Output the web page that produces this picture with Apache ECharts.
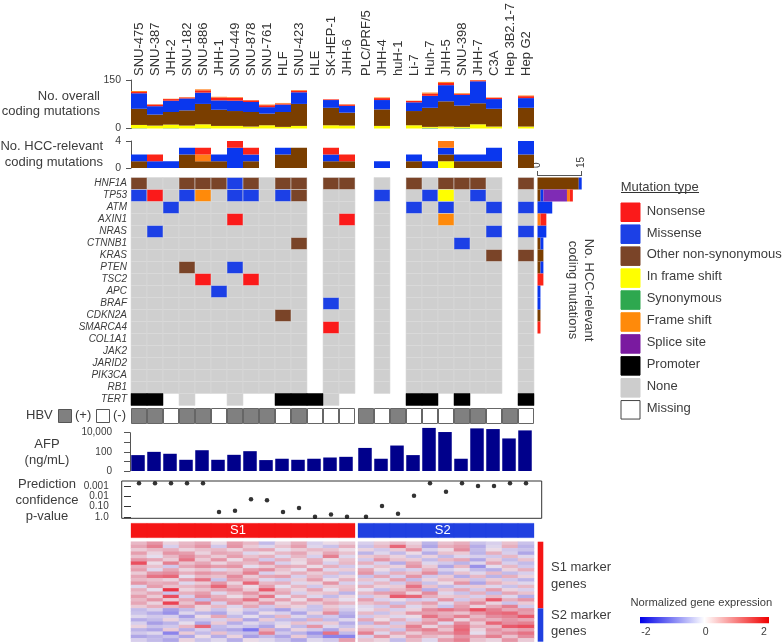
<!DOCTYPE html>
<html><head><meta charset="utf-8">
<style>html,body{margin:0;padding:0;background:#fff}#c{width:784px;height:644px;filter:blur(.45px)}</style>
<script src="https://cdn.jsdelivr.net/npm/echarts@6/dist/echarts.min.js"></script>
</head><body><div id="c"></div>
<script>
const cellLines = ['SNU-475','SNU-387','JHH-2','SNU-182','SNU-886','JHH-1','SNU-449','SNU-878','SNU-761','HLF','SNU-423','HLE','SK-HEP-1','JHH-6','PLC/PRF/5','JHH-4','huH-1','Li-7','Huh-7','JHH-5','SNU-398','JHH-7','C3A','Hep 3B2.1-7','Hep G2'];
const genes = ['HNF1A','TP53','ATM','AXIN1','NRAS','CTNNB1','KRAS','PTEN','TSC2','APC','BRAF','CDKN2A','SMARCA4','COL1A1','JAK2','JARID2','PIK3CA','RB1','TERT'];
// overall coding mutations, by column (null = not sequenced)
const ovSyn   = [1,0,1,0,1,0,0,0,0,0,0,null,0,0,null,0,null,0,2,0,2,0,0,null,0];
const ovInfr  = [10,9,11,9,12,8,8,6,10,5,8,null,10,9,null,8,null,10,3,6,3,13,6,null,6];
const ovOther = [50,34,39,47,63,50,46,45,36,46,68,null,54,40,null,51,null,44,59,78,66,65,55,null,58];
const ovMiss  = [48,26,35,37,35,29,32,31,20,23,36,null,24,21,null,29,null,27,37,50,33,68,30,null,30];
const ovNons  = [4,5,5,3,7,9,9,5,6,3,5,null,2,4,null,6,null,4,7,7,3,3,4,null,6];
const ovFram  = [3,1,1,1,3,2,2,1,2,2,2,null,0,1,null,2,null,1,3,3,2,1,1,null,2];
// HCC-relevant coding mutations, by column
const hcInfr  = [0,0,0,0,0,0,0,0,0,0,0,null,0,0,null,0,null,0,0,1,0,0,0,null,0];
const hcOther = [1,0,0,2,1,1,0,1,0,2,3,null,1,1,null,0,null,1,0,1,1,1,1,null,2];
const hcMiss  = [1,1,1,1,0,1,3,1,0,1,0,null,1,0,null,1,null,1,1,1,1,1,2,null,2];
const hcFram  = [0,0,0,0,1,0,0,0,0,0,0,null,0,0,null,0,null,0,0,1,0,0,0,null,0];
const hcNons  = [0,1,0,0,1,0,1,1,0,0,0,null,1,1,null,0,null,0,0,0,0,0,0,null,0];
// mutation matrix: N nonsense, M missense, O other, I in frame, F frame shift, P promoter, . none, _ missing
const geneMatrix = [
 'O..OOOMO.OO_OO_._O.OOO._O',
 'MN.MF.MM.MO_.._M_.MI.M._.',
 '..M........_.._._M.M..M_M',
 '......N...._.N_._..F..._.',
 '.M........._.._._.....M_M',
 '..........O_.._._...M.._.',
 '..........._.._._.....O_O',
 '...O..M...._.._._......_.',
 '....N..N..._.._._......_.',
 '.....M....._.._._......_.',
 '..........._M._._......_.',
 '.........O._.._._......_.',
 '..........._N._._......_.',
 '..........._.._._......_.',
 '..........._.._._......_.',
 '..........._.._._......_.',
 '..........._.._._......_.',
 '..........._.._._......_.',
 'PP_.__.__PPP.____PP_P___P'
];
// per-gene totals for the marginal bars
const mgOther  = [14,1,0,0,0,1,2,1,0,0,0,1,0,0,0,0,0,0,0];
const mgMiss   = [1,1,5,0,3,1,0,1,0,1,1,0,0,0,0,0,0,0,0];
const mgSplice = [0,8,0,0,0,0,0,0,0,0,0,0,0,0,0,0,0,0,0];
const mgFram   = [0,1,0,1,0,0,0,0,0,0,0,0,0,0,0,0,0,0,0];
const mgNons   = [0,1,0,2,0,0,0,0,2,0,0,0,1,0,0,0,0,0,0];
const hbv = '++-++-+++-+---+-+---++-+-';
const afpLog = [1.66,2.0,1.8,1.17,2.17,1.17,1.69,2.07,1.14,1.28,1.17,1.28,1.41,1.48,2.41,1.28,2.66,1.66,4.5,4.07,1.28,4.45,4.38,3.4,4.24];
const afpTicks = {0:'0',2:'100',4:'10,000'};
const pvalLog = [3.26,3.26,3.26,3.26,3.26,0.48,0.61,1.71,1.61,0.48,0.87,0.03,0.23,0.03,0.03,1.06,0.32,2.06,3.26,2.45,3.26,3.0,3.0,3.26,3.26];
const pvalTicks = {0:'1.0',1:'0.10',2:'0.01',3:'0.001'};
const subtype = ['S1','S1','S1','S1','S1','S1','S1','S1','S1','S1','S1','S1','S1','S1','S2','S2','S2','S2','S2','S2','S2','S2','S2','S2','S2'];
const markerCounts = [20,10];
const exprS1 = [
[.5,.9,.2,.5,.7,.1,.8,.5,-.6,.2,.6,-.3,.1,.3],[.7,1.1,-.3,.6,.9,-.4,.9,.3,-.2,.4,.8,-.2,-.5,.6],
[.3,.5,.6,.2,.4,.5,.2,.6,.7,-.1,.3,.5,.4,.1],[.8,.2,.9,.8,.2,.7,.6,-.2,.1,.5,.7,.2,.7,.4],
[.4,-.1,.5,1.0,.6,.3,.8,.4,.6,-.2,.5,-.3,1.1,-.2],[.9,.7,.3,1.2,.3,.9,.1,.7,-.4,.6,.2,.6,.1,.4],
[1.5,.1,1.1,.4,.7,.2,.6,.5,.9,-.3,.1,.7,-.3,.5],[.6,.4,-.4,.7,1.0,.8,.9,-.1,.3,.7,.6,.1,.6,-.4],
[.8,-.2,.7,.2,.4,-.2,.3,.8,1.0,.4,-.1,.9,-.2,.3],[.3,.9,1.0,.6,.9,.7,.5,1.1,-.3,.2,.6,.3,.5,-.5],
[.7,1.2,1.3,-.1,.5,.4,1.0,.3,.7,.8,-.3,.5,-.4,.2],[.5,.4,.2,.8,1.2,-.5,.8,.6,-.2,-.4,.3,.8,.1,.6],
[.9,.6,.7,-.2,.3,.9,.2,1.3,.5,.6,-.2,.2,.9,-.3],[-.2,.8,.4,.5,.7,1.3,.6,.1,.8,-.1,.5,-.4,.3,.4],
[.6,-.1,1.7,.2,.4,.7,.9,.3,1.4,.5,.2,.7,-.1,.5],[.4,.7,-.5,.6,.8,-.2,.5,.9,.4,.7,-.3,.3,.4,-.7],
[.8,.3,1.5,-.3,1.0,.6,.1,.5,1.2,-.1,.6,-.2,-.6,.2],[.5,.9,.3,.7,-.6,.8,.7,1.2,.3,.8,.1,.9,.4,-.1],
[.7,.2,1.6,.4,1.1,-.3,.9,.4,.9,.2,.6,.3,.7,.5],[.3,.6,.5,.8,.2,.5,-.2,.7,-.4,.4,.2,-.5,.3,-.2],
[-.6,-.3,-1.0,-.6,.2,-.5,.1,-.4,-.6,-1,-.3,-.5,.5,-.4],[-.5,-.8,-1.1,-.2,-.7,-.9,-.2,-.8,.1,-.3,-.9,.2,1.0,-.7],
[-.2,-.4,-.3,-1.0,.1,.7,-.6,-.1,-.7,.5,-.2,-.6,-.4,-.9],[-.8,-.6,.2,-.5,-.4,-.3,.4,-.9,.3,-.6,-.7,.6,-.6,-.2],
[-.3,-1.0,-.7,-.1,-.9,.3,-.8,-.2,-.5,-.2,.4,-.3,.3,-.8],[.2,-.5,-.4,.5,1.3,-.6,-.3,-.5,-.9,.1,-.6,.9,-.2,-.5],
[-.7,-.9,.3,-.8,-.3,-.7,-.9,-1.3,.6,-.8,.2,-.4,-.9,.3],[-.4,-.2,-1.2,.3,-.6,.4,-.5,-.6,1.1,-.4,-.7,-1.1,1.2,-.6],
[-.9,-.7,-.5,-.9,.1,-.8,.2,-1.0,-.6,-.9,.3,-.7,-1.2,-1.2],[-.3,-.6,-.9,.2,-.5,-.2,-.8,.1,-.2,-.5,-.9,-.2,-.4,.8]
];
const exprS2 = [
[-.3,.3,.5,.2,-.7,.4,.6,-.5,-.3,.4,-.5],[-.5,.5,1.3,.4,-.9,.6,.8,-.8,-.2,.6,-.7],
[.2,-.4,.3,.9,-.3,.1,1.0,-.6,.1,-.4,-.5],[-.7,-.2,-.6,.1,-.8,.4,.3,-.7,.6,-.3,-.9],
[.3,.5,.2,-.5,.2,-.6,-.2,-.3,-.4,.5,-.2],[-.4,.9,.4,.3,-.6,.5,.7,-.9,.3,-.6,.4],
[.6,-.3,-.8,.7,-.2,-.4,-.7,-.2,.7,-.3,-.6],[-.2,.4,.2,.9,.3,-.9,.5,-1.1,-.1,.5,-.4],
[.7,.1,-.5,-.3,.6,-.3,-.1,-.6,-.8,.2,.6],[.9,-.4,.6,.4,1.0,-.7,.4,-.2,.5,-.6,-.3],
[-.5,.7,-.3,.9,-.4,.3,-.8,.5,-.7,.6,.2],[.4,-.2,.8,-.6,.2,.5,.4,-.5,.3,-.4,-.7],
[-.3,.5,-.4,.7,-.5,.1,.9,-.9,.6,.3,-.2],[.6,.2,.3,1.2,.4,-.6,-.3,.3,-.2,-.5,.5],
[-.1,-.6,.5,.8,-.8,.4,.7,-.4,.8,.2,-.3],[.5,.8,.9,.2,1.0,-.2,-.5,.6,-.6,.7,.4],
[-.4,.3,1.4,1.3,.6,.3,.4,-.3,.5,-.2,-.8],[.8,-.3,.1,-.4,-.3,.9,-.4,.5,1.4,.6,.9],
[.4,.6,-.5,.5,.8,-.2,.6,1.0,.2,-.5,.3],[-.2,-.4,.7,-.2,.4,-.5,.8,.2,.7,1.1,-.4],
[-.1,.4,-.3,.2,1.0,1.2,1.0,1.5,1.1,.7,.9],[.5,-.5,.3,.9,.8,.6,.4,.9,1.2,1.3,.8],
[-.4,.3,-.2,.1,1.2,.7,1.1,.5,1.0,1.1,1.4],[.7,.1,.6,-.3,.6,1.1,.2,.8,.6,.9,.7],
[-.6,.8,-.4,.5,.9,-.2,1.0,.3,1.3,1.0,1.1],[.3,-.3,.4,1.1,.2,.7,1.2,.6,.5,1.4,1.5],
[.6,.5,-.5,.9,1.1,.4,1.3,.2,.9,.6,.8],[1.1,-.2,.7,.3,.8,.9,1.2,-.1,.7,1.0,1.2],
[-.3,.9,.2,.8,.5,.3,.9,.7,1.1,.4,1.0],[.4,.2,-.6,.5,-.2,.8,1.1,.4,.2,.9,.3]
];
const legendNames = ['Nonsense','Missense','Other non-synonymous','In frame shift','Synonymous','Frame shift','Splice site','Promoter','None','Missing'];
const legendColors = ['#fb1a1a','#1c40e6','#7a4428','#ffff00','#2ea84f','#ff8a0a','#7a1aa0','#000000','#cdcdcd','#ffffff'];

const FONT = '"Liberation Sans", Arial, sans-serif';
const INK = '#3c3c3c';
const GAP = 3/16, XMAX = 25 + GAP;
const colLeft = i => i + (i >= 14 ? GAP : 0);
const colMid = i => colLeft(i) + 0.5;
const C = {red:'#fb2418', blue:'#0a37ee', brown:'#7a3e00', yellow:'#ffff00', green:'#4caf2a', orange:'#ff7d14', purple:'#7f2bb5'};
const codeColor = {N:'#fb1a1a', M:'#1c40e6', O:'#7a4428', I:'#ffff00', F:'#ff8a0a', P:'#000000', '.':'#cfcfcf', _:'#ffffff'};
const codes = Object.keys(codeColor);

const hiddenX = (g, extra) => Object.assign({type:'value', gridIndex:g, min:0, max:XMAX, show:false}, extra||{});
const valY = (g, max, interval, extra) => Object.assign({type:'value', gridIndex:g, min:0, max, interval, splitLine:{show:false},
  axisLine:{show:true, lineStyle:{color:'#555'}}, axisTick:{show:true, length:5, lineStyle:{color:'#555'}},
  axisLabel:{fontSize:10.5, color:INK, margin:10, fontFamily:FONT}}, extra||{});
const hiddenCat = (g, data, extra) => Object.assign({type:'category', gridIndex:g, data, show:false, boundaryGap:true}, extra||{});

// value first, column second: ECharts then stacks the value, not the column position
const stack = (name, arr, color, g, sk, w) => ({type:'bar', name, xAxisIndex:g, yAxisIndex:g, stack:sk, barWidth:w, clip:false,
  encode:{x:1,y:0}, itemStyle:{color}, silent:true, data: arr.map((v,i)=>[v===null?0:v, colMid(i)])});
const cellRender = (params, api) => {
  const p = api.coord([api.value(0), api.value(1)]);
  const w = api.size([1,0])[0], h = api.size([0,1])[1];
  const code = codes[api.value(2)];
  if (code === '_') return null;
  const fill = codeColor[code];
  return {type:'rect', shape:{x:p[0], y:p[1]-h/2, width:w, height:h},
    style:{fill, stroke: code==='.' ? '#dadada' : (code==='P' ? '#000' : '#dcdcdc'), lineWidth: code==='.' ? .6 : .5}};
};
const cellData = [];
geneMatrix.forEach((row,r)=>{ row.split('').forEach((c,i)=>{ if (c!=='.') return; cellData.push([colLeft(i), r, codes.indexOf(c)]); }); });
geneMatrix.forEach((row,r)=>{ row.split('').forEach((c,i)=>{ if (c==='.'||c==='_') return; cellData.push([colLeft(i), r, codes.indexOf(c)]); }); });

const hbar = (name, arr, color) => ({type:'bar', name, xAxisIndex:3, yAxisIndex:3, stack:'mg', barWidth:12, itemStyle:{color}, silent:true, data:arr});
const heat = (g, m) => { const d=[]; m.forEach((row,r)=>row.forEach((v,c)=>d.push([c,r,v]))); return {type:'heatmap', xAxisIndex:g, yAxisIndex:g, data:d, silent:true, progressive:0, itemStyle:{borderWidth:0}}; };

const txt = (text, x, y, o) => ({type:'text', silent:true, z:50, style:Object.assign({text, x, y, font:'13px '+FONT, fill:INK, textAlign:'left', textVerticalAlign:'middle'}, o||{})});
const gfx = [
  txt('No. overall',100,96,{textAlign:'right'}), txt('coding mutations',100,111,{textAlign:'right'}),
  txt('No. HCC-relevant',103,146,{textAlign:'right'}), txt('coding mutations',103,162,{textAlign:'right'}),
  txt('HBV',26,415.5), {type:'rect',shape:{x:58.5,y:409.5,width:13,height:13},style:{fill:'#808080',stroke:'#555',lineWidth:1},silent:true},
  txt('(+)',75,415.5), {type:'rect',shape:{x:96.5,y:409.5,width:13,height:13},style:{fill:'#fff',stroke:'#555',lineWidth:1},silent:true}, txt('(-)',113,415.5),
  txt('AFP',47,444,{textAlign:'center'}), txt('(ng/mL)',47,460.7,{textAlign:'center'}),
  txt('Prediction',47,484,{textAlign:'center'}), txt('confidence',47,500,{textAlign:'center'}), txt('p-value',47,516,{textAlign:'center'}),
  txt('S1',238,530.5,{textAlign:'center',fill:'#fff'}), txt('S2',442.7,530.5,{textAlign:'center',fill:'#fff'}),
  txt('S1 marker',551,567.7), txt('genes',551,584), txt('S2 marker',551,615), txt('genes',551,631),
  Object.assign(txt('No. HCC-relevant',0,0,{textAlign:'center'}),{x:589,y:290,rotation:-Math.PI/2}),
  Object.assign(txt('coding mutations',0,0,{textAlign:'center'}),{x:573,y:290,rotation:-Math.PI/2}),
  txt('Mutation type',620.7,187,{font:'13px '+FONT}),
  {type:'line',shape:{x1:621,y1:192.5,x2:699,y2:192.5},style:{stroke:'#333',lineWidth:1},silent:true},
  txt('Normalized gene expression',630.5,603.3,{font:'11.2px '+FONT}),
  {type:'rect',silent:true,shape:{x:640,y:617,width:129,height:6.3},style:{fill:new echarts.graphic.LinearGradient(0,0,1,0,[{offset:0,color:'#0000e8'},{offset:.5,color:'#ffffff'},{offset:1,color:'#f00000'}])}},
  txt('-2',646,632,{font:'10.5px '+FONT,textAlign:'center'}), txt('0',705.7,632,{font:'10.5px '+FONT,textAlign:'center'}), txt('2',764,632,{font:'10.5px '+FONT,textAlign:'center'})
];
legendNames.forEach((n,i)=>{
  const y = 203 + i*21.95;
  gfx.push({type:'rect',silent:true,shape:{x:621,y,width:19,height:18.5},style:{fill:legendColors[i],stroke:n==='Missing'?'#444':legendColors[i],lineWidth:1}});
  gfx.push(txt(n,646.7,y+8));
});

const option = {
  animation:false, backgroundColor:'#fff', textStyle:{fontFamily:FONT},
  grid:[
    {left:131,top:79,width:403,height:49.5},
    {left:131,top:141,width:403,height:27},
    {left:131,top:177.5,width:403,height:228},
    {left:537.5,top:177.5,width:44.2,height:228},
    {left:131,top:408,width:403,height:16},
    {left:130,top:432.7,width:403,height:38.3},
    {left:121.7,top:481,width:420,height:37.3,show:true,borderColor:'#333',borderWidth:1,backgroundColor:'transparent'},
    {left:131,top:523.3,width:403,height:14.4},
    {left:131,top:541.7,width:224,height:100},
    {left:358,top:541.7,width:176,height:100},
    {left:537.7,top:541.7,width:5.6,height:100}
  ],
  xAxis:[
    {type:'value',gridIndex:0,min:0,max:XMAX,position:'top',splitLine:{show:false},axisLine:{show:false},axisTick:{show:false},
     axisLabel:{customValues:cellLines.map((_,i)=>colMid(i)),rotate:90,margin:4,fontSize:13,color:'#333',fontFamily:FONT,
       formatter:v=>{let b=0,d=1e9;cellLines.forEach((_,i)=>{const e=Math.abs(colMid(i)-v);if(e<d){d=e;b=i;}});return cellLines[b];}}},
    hiddenX(1), hiddenX(2),
    {type:'value',gridIndex:3,min:0,max:15,interval:15,position:'top',offset:2.5,splitLine:{show:false},
     axisLine:{show:true,lineStyle:{color:'#555'}},axisTick:{show:true,length:4,lineStyle:{color:'#555'}},
     axisLabel:{rotate:-90,margin:7,fontSize:10,color:INK,fontFamily:FONT}},
    hiddenX(4), hiddenX(5),
    {type:'value',gridIndex:6,min:-(131-121.7)/16,max:(541.7-131)/16,show:false},
    hiddenX(7),
    hiddenCat(8,exprS1[0].map((_,i)=>i)), hiddenCat(9,exprS2[0].map((_,i)=>i)),
    hiddenCat(10,['markers'])
  ],
  yAxis:[
    valY(0,150,150), valY(1,4,4),
    {type:'category',gridIndex:2,data:genes,inverse:true,axisLine:{show:false},axisTick:{show:false},splitLine:{show:false},
     axisLabel:{fontStyle:'italic',fontSize:10,color:INK,margin:4,interval:0,fontFamily:FONT}},
    hiddenCat(3,genes,{inverse:true}),
    hiddenCat(4,['HBV']),
    valY(5,4,1,{offset:5,axisTick:{show:true,length:6,lineStyle:{color:'#555'}},axisLabel:{fontSize:10,color:INK,margin:13,fontFamily:FONT,formatter:v=>afpTicks[v]||''}}),
    {type:'value',gridIndex:6,min:-0.126,max:3.485,splitLine:{show:false},axisLine:{show:false},
     axisTick:{show:true,customValues:[0,1,2,3],length:7,lineStyle:{color:'#333'}},
     axisLabel:{customValues:[0,1,2,3],margin:13,fontSize:10,color:INK,fontFamily:FONT,formatter:v=>pvalTicks[v]}},
    hiddenCat(7,['subtype']),
    hiddenCat(8,exprS1.map((_,i)=>i),{inverse:true}), hiddenCat(9,exprS2.map((_,i)=>i),{inverse:true}),
    {type:'value',gridIndex:10,min:0,max:30,inverse:true,show:false}
  ],
  visualMap:{type:'continuous',show:false,min:-2,max:2,seriesIndex:[30,31],
    inRange:{color:['#1a1aff','#a89fe6','#ece4ee','#e48c9e','#f01020']}},
  series:[
    stack('Synonymous',ovSyn,C.green,0,'ov',16), stack('In frame shift',ovInfr,C.yellow,0,'ov',16), stack('Other',ovOther,C.brown,0,'ov',16),
    stack('Missense',ovMiss,C.blue,0,'ov',16), stack('Nonsense',ovNons,C.red,0,'ov',16), stack('Frame shift',ovFram,C.orange,0,'ov',16),
    stack('In frame shift',hcInfr,C.yellow,1,'hc',16), stack('Other',hcOther,C.brown,1,'hc',16), stack('Missense',hcMiss,C.blue,1,'hc',16),
    stack('Frame shift',hcFram,C.orange,1,'hc',16), stack('Nonsense',hcNons,C.red,1,'hc',16),
    {type:'custom',name:'matrix',xAxisIndex:2,yAxisIndex:2,silent:true,encode:{x:0,y:1},renderItem:cellRender,data:cellData},
    hbar('Other',mgOther,C.brown), hbar('Missense',mgMiss,C.blue), hbar('Splice site',mgSplice,C.purple), hbar('Frame shift',mgFram,C.orange), hbar('Nonsense',mgNons,C.red),
    {type:'custom',name:'HBV',xAxisIndex:4,yAxisIndex:4,silent:true,encode:{x:0,y:1},
     renderItem:(p,api)=>{const c=api.coord([api.value(0),0]),w=api.size([1,0])[0],h=api.size([0,1])[1];
       return {type:'rect',shape:{x:c[0]+.5,y:c[1]-h/2+.5,width:w-1,height:h-1},style:{fill:api.value(2)?'#808080':'#ffffff',stroke:'#666',lineWidth:1}};},
     data:hbv.split('').map((s,i)=>[colLeft(i),0,s==='+'?1:0])},
    {type:'bar',name:'AFP',xAxisIndex:5,yAxisIndex:5,barWidth:13.5,clip:false,silent:true,itemStyle:{color:'#00008b'},data:afpLog.map((v,i)=>[colMid(i),v])},
    {type:'scatter',name:'p-value',xAxisIndex:6,yAxisIndex:6,symbolSize:4.5,clip:false,silent:true,itemStyle:{color:'#000'},data:pvalLog.map((v,i)=>[colMid(i),v])},
    {type:'custom',name:'subtype',xAxisIndex:7,yAxisIndex:7,silent:true,encode:{x:0},
     renderItem:(p,api)=>{const c=api.coord([api.value(0),0]),w=api.size([1,0])[0],h=api.size([0,1])[1];
       const col=api.value(1)?'#2040e0':'#f51515';
       return {type:'rect',shape:{x:c[0],y:c[1]-h/2,width:w,height:h},style:{fill:col,stroke:col,lineWidth:.3}};},
     data:subtype.map((s,i)=>[colLeft(i),s==='S2'?1:0])},
    {type:'bar',name:'S1 marker genes',xAxisIndex:10,yAxisIndex:10,stack:'mk',barWidth:'100%',silent:true,itemStyle:{color:'#f51515'},data:[markerCounts[0]]},
    {type:'bar',name:'S2 marker genes',xAxisIndex:10,yAxisIndex:10,stack:'mk',barWidth:'100%',silent:true,itemStyle:{color:'#2040e0'},data:[markerCounts[1]]}
  ],
  graphic:{elements:gfx}
};
// heatmap series sit at fixed indexes for visualMap
while (option.series.length < 30) option.series.push({type:'line',data:[],xAxisIndex:1,yAxisIndex:1,silent:true});
option.series.push(heat(8,exprS1), heat(9,exprS2));
const chart = echarts.init(document.getElementById('c'),null,{renderer:'canvas'});
chart.setOption(option);
</script></body></html>
